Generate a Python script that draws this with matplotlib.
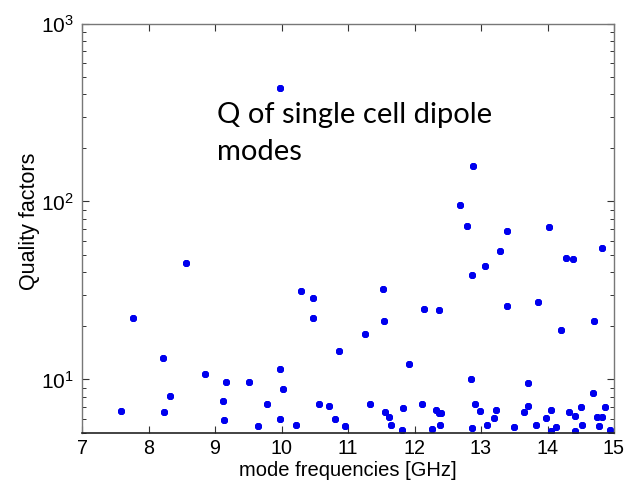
import matplotlib
matplotlib.use("Agg")
import matplotlib.pyplot as plt
from matplotlib.ticker import LogLocator, NullFormatter, FixedLocator

plt.rcParams['font.family'] = ['Liberation Sans', 'DejaVu Sans']
plt.rcParams['mathtext.fontset'] = 'custom'
plt.rcParams['mathtext.rm'] = 'Liberation Sans'
plt.rcParams['mathtext.it'] = 'Liberation Sans'

freq_ghz = [7.58, 7.76, 8.22, 8.23, 8.32, 8.56, 8.85, 9.16, 9.12, 9.13,
            9.51, 9.65, 9.78, 9.97, 9.97, 9.97, 10.02, 10.22, 10.30, 10.47,
            10.48, 10.56, 10.72, 10.81, 10.87, 10.95, 11.26, 11.33, 11.52, 11.54,
            11.55, 11.62, 11.65, 11.81, 11.82, 11.92, 12.12, 12.15, 12.27, 12.32,
            12.37, 12.37, 12.40, 12.38, 12.68, 12.79, 12.85, 12.86, 12.88, 12.87,
            12.91, 12.98, 13.06, 13.09, 13.19, 13.23, 13.28, 13.39, 13.39, 13.49,
            13.64, 13.71, 13.71, 13.82, 13.86, 13.97, 14.02, 14.05, 14.05, 14.13,
            14.20, 14.28, 14.33, 14.38, 14.42, 14.42, 14.50, 14.52, 14.69, 14.70,
            14.75, 14.82, 14.78, 14.82, 14.86, 14.94]
quality = [6.64, 22.2, 13.2, 6.6, 8.06, 45.1, 10.7, 9.66, 7.55, 5.94,
           9.66, 5.45, 7.31, 11.4, 5.97, 433, 8.83, 5.57, 31.6, 28.8,
           22.2, 7.24, 7.06, 6.03, 14.4, 5.50, 17.9, 7.31, 32.4, 21.2,
           6.59, 6.15, 5.52, 5.22, 6.88, 12.2, 7.24, 24.8, 5.26, 6.73,
           24.5, 6.44, 6.44, 5.52, 95.7, 73.1, 10.1, 38.6, 158, 5.31,
           7.24, 6.64, 43.6, 5.52, 6.10, 6.73, 52.9, 68.5, 25.8, 5.38,
           6.59, 7.11, 9.58, 5.52, 27.2, 6.10, 71.5, 6.73, 5.11, 5.38,
           19.0, 48.3, 6.53, 47.8, 6.22, 5.14, 7.00, 5.52, 8.38, 21.2,
           6.17, 6.17, 5.45, 54.6, 7.00, 5.2]

x_ticks = [7, 8, 9, 10, 11, 12, 13, 14, 15]
x_label = "mode frequencies [GHz]"
y_label = "Quality factors"
note_lines = ["Q of single cell dipole", "modes"]

fig = plt.figure(figsize=(6.25, 4.8), dpi=100)
ax = fig.add_axes([82/625, 1 - 433/480, (614-82)/625, (433-23.5)/480])

ax.plot(freq_ghz, quality, linestyle='none', marker=(8, 2, 0), markersize=5,
        markeredgewidth=1.4, color='#0000ee')

ax.set_yscale('log')
ax.set_xlim(7, 15)
ax.set_ylim(5, 1000)
ax.xaxis.set_major_locator(FixedLocator(x_ticks))
ax.set_xticklabels([str(t) for t in x_ticks])
ax.yaxis.set_major_locator(LogLocator(base=10, numticks=10))
ax.yaxis.set_minor_locator(LogLocator(base=10, subs=range(2, 10), numticks=20))
ax.yaxis.set_minor_formatter(NullFormatter())

ax.tick_params(axis='both', which='both', direction='in', top=True, right=True,
               color='#333333')
ax.tick_params(axis='both', which='major', length=5, width=0.8)
ax.tick_params(axis='y', which='minor', length=3, width=0.7)
ax.tick_params(axis='x', which='major', pad=4, labelsize=14.2)
ax.tick_params(axis='y', which='major', pad=6, labelsize=15)

for side in ['left', 'top', 'right']:
    ax.spines[side].set_color('#777777')
    ax.spines[side].set_linewidth(1.0)
ax.spines['bottom'].set_color('#222222')
ax.spines['bottom'].set_linewidth(1.2)

ax.set_xlabel(x_label, fontsize=14.5, va='center')
ax.xaxis.set_label_coords(0.5, (433 - 470) / 409.5)
ax.set_ylabel(y_label, fontsize=15.5, va='center')
ax.yaxis.set_label_coords((30 - 82) / 532, (433 - 221) / 409.5)

note_font = ['Lato', 'DejaVu Sans']
fig.text(217/625, 1 - 123/480, note_lines[0], fontsize=21, family=note_font,
         ha='left', va='baseline')
fig.text(217/625, 1 - 160/480, note_lines[1], fontsize=21, family=note_font,
         ha='left', va='baseline')

fig.savefig('out.png', dpi=100)
